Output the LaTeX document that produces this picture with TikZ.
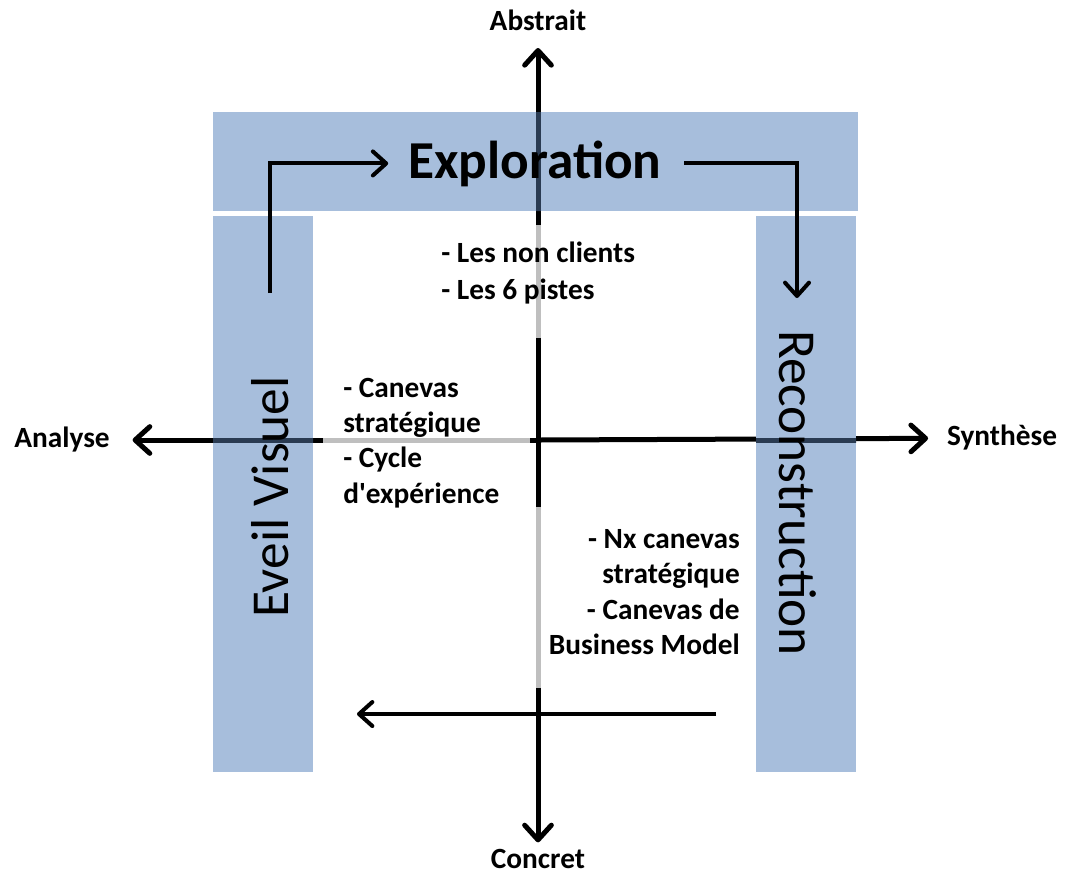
\documentclass[tikz,border=0pt]{standalone}
\usepackage{fontspec}
\setmainfont{Carlito}
\usetikzlibrary{arrows.meta}
\definecolor{band}{HTML}{A7BEDC}
\definecolor{navy}{HTML}{2A3B52}
\definecolor{axgray}{HTML}{BFBFBF}
\begin{document}
\begin{tikzpicture}[x=0.75pt,y=-0.75pt,
  lbl/.style={font=\fontsize{22}{26}\selectfont\bfseries, inner sep=0pt, text=black},
  big/.style={font=\fontsize{40}{48}\selectfont, inner sep=0pt},
  axisline/.style={line width=3.75pt, -{Straight Barb[length=11pt,width=20pt,round]}},
  grayseg/.style={line width=3.75pt, axgray},
  navyseg/.style={line width=3.75pt, navy},
  conn/.style={line width=3pt, -{Straight Barb[length=10pt,width=18pt,round]}},
  bandbox/.style={fill=band, draw=none}]
\useasboundingbox (0,0) rectangle (1066,876);
% axis labels
\node[lbl] (abs) at (538,20) {Abstrait};
\node[lbl] (con) at (538,859) {Concret};
\node[lbl] (ana) at (62,440) {Analyse};
\node[lbl] (syn) at (1002,438) {Synthèse};
\coordinate (O) at (538,440);
% axes
\draw[axisline, shorten >=13pt] (O) -- (abs);
\draw[axisline, shorten >=5pt] (O) -- (con);
\draw[axisline, shorten >=17pt] (O) -- (ana);
\draw[axisline, shorten >=14pt] (O) -- (syn);
% gray segments
\draw[grayseg] (538,225) -- (538,338);
\draw[grayseg] (538,507) -- (538,688);
\draw[grayseg] (323,440) -- (530,440);
% bands
\fill[bandbox] (213,112) rectangle (858,211);
\fill[bandbox] (213,216) rectangle (313,772);
\fill[bandbox] (756,216) rectangle (856,772);
% axes seen through bands
\begin{scope}
  \clip (213,112) rectangle (858,211) (213,216) rectangle (313,772) (756,216) rectangle (856,772);
  \draw[navyseg] (538,60) -- (538,830);
  \draw[navyseg] (140,440) -- (920,440);
\end{scope}
% band titles
\node[big, font=\fontsize{40}{48}\selectfont\bfseries, anchor=base] (expl) at (535,178) {Exploration};
\node[big, rotate=90] (eveil) at (270,497) {Eveil Visuel};
\node[big, rotate=-90] (recon) at (798,493) {Reconstruction};
% process connectors
\coordinate (evTop) at (270,293);
\coordinate (recTop) at (797,298);
\draw[conn, shorten >=15pt] (evTop) |- (expl.west);
\draw[conn, shorten <=17pt] (expl.east) -| (recTop);
\coordinate (bStart) at (716,714);
\coordinate (bEnd) at (357,714);
\draw[conn] (bStart) -- (bEnd);
% quadrant texts
\node[lbl, anchor=west, align=left, font=\fontsize{22}{28}\selectfont\bfseries] (t1) at (441,273) {- Les non clients\\- Les 6 pistes};
\node[lbl, anchor=west, align=left, font=\fontsize{22}{26.5}\selectfont\bfseries] (t2) at (343,443) {- Canevas\\stratégique\\- Cycle\\d\textquotesingle expérience};
\node[lbl, anchor=east, align=right, font=\fontsize{22}{26.5}\selectfont\bfseries] (t3) at (740,592) {- Nx canevas\\stratégique\\- Canevas de\\Business Model};
\end{tikzpicture}
\end{document}
